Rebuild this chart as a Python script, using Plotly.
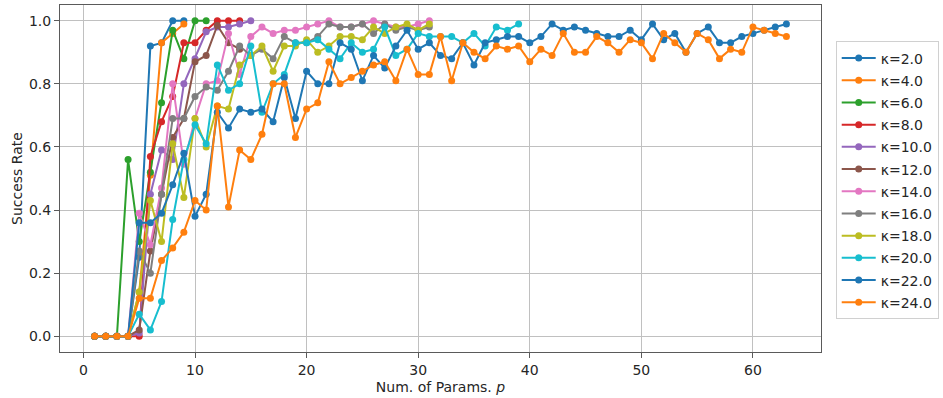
import plotly.graph_objects as go

# Success rate vs. number of parameters p (p = 1, 2, ...), one series per kappa
kappas = [2.0, 4.0, 6.0, 8.0, 10.0, 12.0, 14.0, 16.0, 18.0, 20.0, 22.0, 24.0]

rate_k2 = [0, 0, 0, 0, 0.25, 0.92, 0.93, 1.0, 1.0]
rate_k4 = [0, 0, 0, 0, 0.14, 0.51, 0.93, 0.96, 0.99]
rate_k6 = [0, 0, 0, 0.56, 0.30, 0.52, 0.74, 0.97, 0.88, 1.0, 1.0]
rate_k8 = [0, 0, 0, 0, 0.0, 0.57, 0.68, 0.76, 0.93, 0.93, 0.97, 1.0, 1.0, 1.0]
rate_k10 = [0, 0, 0, 0, 0.01, 0.45, 0.59, 0.56, 0.80, 0.88, 0.965, 0.98, 0.98,
            0.99, 1.0]
rate_k12 = [0, 0, 0, 0, 0.02, 0.27, 0.45, 0.63, 0.69, 0.87, 0.89, 0.985, 0.93,
            0.91]
rate_k14 = [0, 0, 0, 0, 0.39, 0.29, 0.47, 0.80, 0.545, 0.69, 0.80, 0.81, 0.96,
            0.83, 0.95, 0.98, 0.96, 0.97, 0.97, 0.98, 0.99, 1.0, 0.98, 0.98,
            0.99, 1.0, 0.99, 0.98, 0.98, 0.99, 1.0]
rate_k16 = [0, 0, 0, 0, 0.27, 0.20, 0.45, 0.69, 0.69, 0.76, 0.79, 0.78, 0.84,
            0.92, 0.89, 0.91, 0.88, 0.95, 0.93, 0.93, 0.95, 0.99, 0.98, 0.98,
            0.99, 0.96, 0.99, 0.97, 0.98, 0.97, 0.98]
rate_k18 = [0, 0, 0, 0, 0.14, 0.43, 0.30, 0.61, 0.44, 0.69, 0.60, 0.73, 0.72,
            0.86, 0.89, 0.92, 0.84, 0.92, 0.92, 0.94, 0.90, 0.92, 0.95, 0.95,
            0.94, 0.98, 0.96, 0.98, 0.99, 0.97, 0.99]
rate_k20 = [0, 0, 0, 0, 0.07, 0.02, 0.11, 0.37, 0.56, 0.67, 0.61, 0.86, 0.78,
            0.80, 0.92, 0.71, 0.80, 0.83, 0.93, 0.93, 0.94, 0.91, 0.88, 0.93,
            0.90, 0.91, 0.98, 0.89, 0.91, 0.96, 0.95, 0.95, 0.95, 0.93, 0.96,
            0.92, 0.98, 0.97, 0.99]
rate_k22 = [0, 0, 0, 0, 0.36, 0.36, 0.39, 0.48, 0.58, 0.38, 0.45, 0.71, 0.66,
            0.72, 0.71, 0.72, 0.68, 0.82, 0.69, 0.84, 0.80, 0.80, 0.93, 0.91,
            0.81, 0.89, 0.85, 0.92, 0.97, 0.91, 0.93, 0.89, 0.88, 0.93, 0.86,
            0.93, 0.94, 0.95, 0.95, 0.93, 0.95, 0.99, 0.97, 0.98, 0.97, 0.96,
            0.95, 0.95, 0.97, 0.94, 0.99, 0.94, 0.96, 0.90, 0.96, 0.98, 0.93,
            0.93, 0.95, 0.96, 0.97, 0.98, 0.99]
rate_k24 = [0, 0, 0, 0, 0.12, 0.12, 0.24, 0.28, 0.33, 0.43, 0.40, 0.73, 0.41,
            0.59, 0.56, 0.64, 0.80, 0.80, 0.63, 0.72, 0.74, 0.87, 0.80, 0.82,
            0.84, 0.86, 0.87, 0.81, 0.91, 0.83, 0.83, 0.95, 0.81, 0.93, 0.90,
            0.88, 0.92, 0.91, 0.92, 0.87, 0.91, 0.89, 0.96, 0.90, 0.90, 0.95,
            0.93, 0.90, 0.94, 0.93, 0.88, 0.96, 0.93, 0.90, 0.96, 0.94, 0.88,
            0.91, 0.90, 0.98, 0.97, 0.96, 0.95]

series = [rate_k2, rate_k4, rate_k6, rate_k8, rate_k10, rate_k12, rate_k14,
          rate_k16, rate_k18, rate_k20, rate_k22, rate_k24]

palette = ["#1f77b4", "#ff7f0e", "#2ca02c", "#d62728", "#9467bd", "#8c564b",
           "#e377c2", "#7f7f7f", "#bcbd22", "#17becf"]

x_ticks = [0, 10, 20, 30, 40, 50, 60]
y_ticks = [0.0, 0.2, 0.4, 0.6, 0.8, 1.0]

fig = go.Figure()
for i, (k, vals) in enumerate(zip(kappas, series)):
    color = palette[i % len(palette)]
    fig.add_trace(go.Scatter(
        x=list(range(1, len(vals) + 1)),
        y=vals,
        mode="lines+markers",
        name=f"κ={k:.1f}",
        legendgroup=f"g{i}",
        line=dict(color=color, width=2),
        marker=dict(color=color, size=7),
    ))

axis_common = dict(
    showgrid=True,
    gridcolor="#c0c0c0",
    gridwidth=1,
    showline=True,
    linecolor="#5a5a5a",
    linewidth=1,
    mirror=True,
    ticks="outside",
    ticklen=5,
    tickcolor="#5a5a5a",
    zeroline=False,
    tickfont=dict(family="DejaVu Sans", size=14, color="#262626"),
)

fig.update_layout(
    width=943,
    height=398,
    margin=dict(l=60, r=121, t=5, b=46),
    paper_bgcolor="white",
    plot_bgcolor="white",
    font=dict(family="DejaVu Sans", size=14, color="#262626"),
    xaxis=dict(
        range=[-2.1, 66.1],
        tickvals=x_ticks,
        ticktext=[str(v) for v in x_ticks],
        title=dict(text="Num. of Params. <i>p</i>", standoff=5,
                   font=dict(size=14)),
        **axis_common,
    ),
    yaxis=dict(
        range=[-0.05, 1.05],
        tickvals=y_ticks,
        ticktext=[f"{v:.1f}" for v in y_ticks],
        title=dict(text="Success Rate", standoff=3, font=dict(size=14)),
        **axis_common,
    ),
    legend=dict(
        x=1.018,
        xanchor="left",
        y=0.895,
        yanchor="top",
        bgcolor="white",
        bordercolor="#d0d0d0",
        borderwidth=1,
        tracegroupgap=1,
        itemwidth=34,
        font=dict(family="DejaVu Sans", size=14, color="#262626"),
    ),
)

fig.write_html("out.html")
